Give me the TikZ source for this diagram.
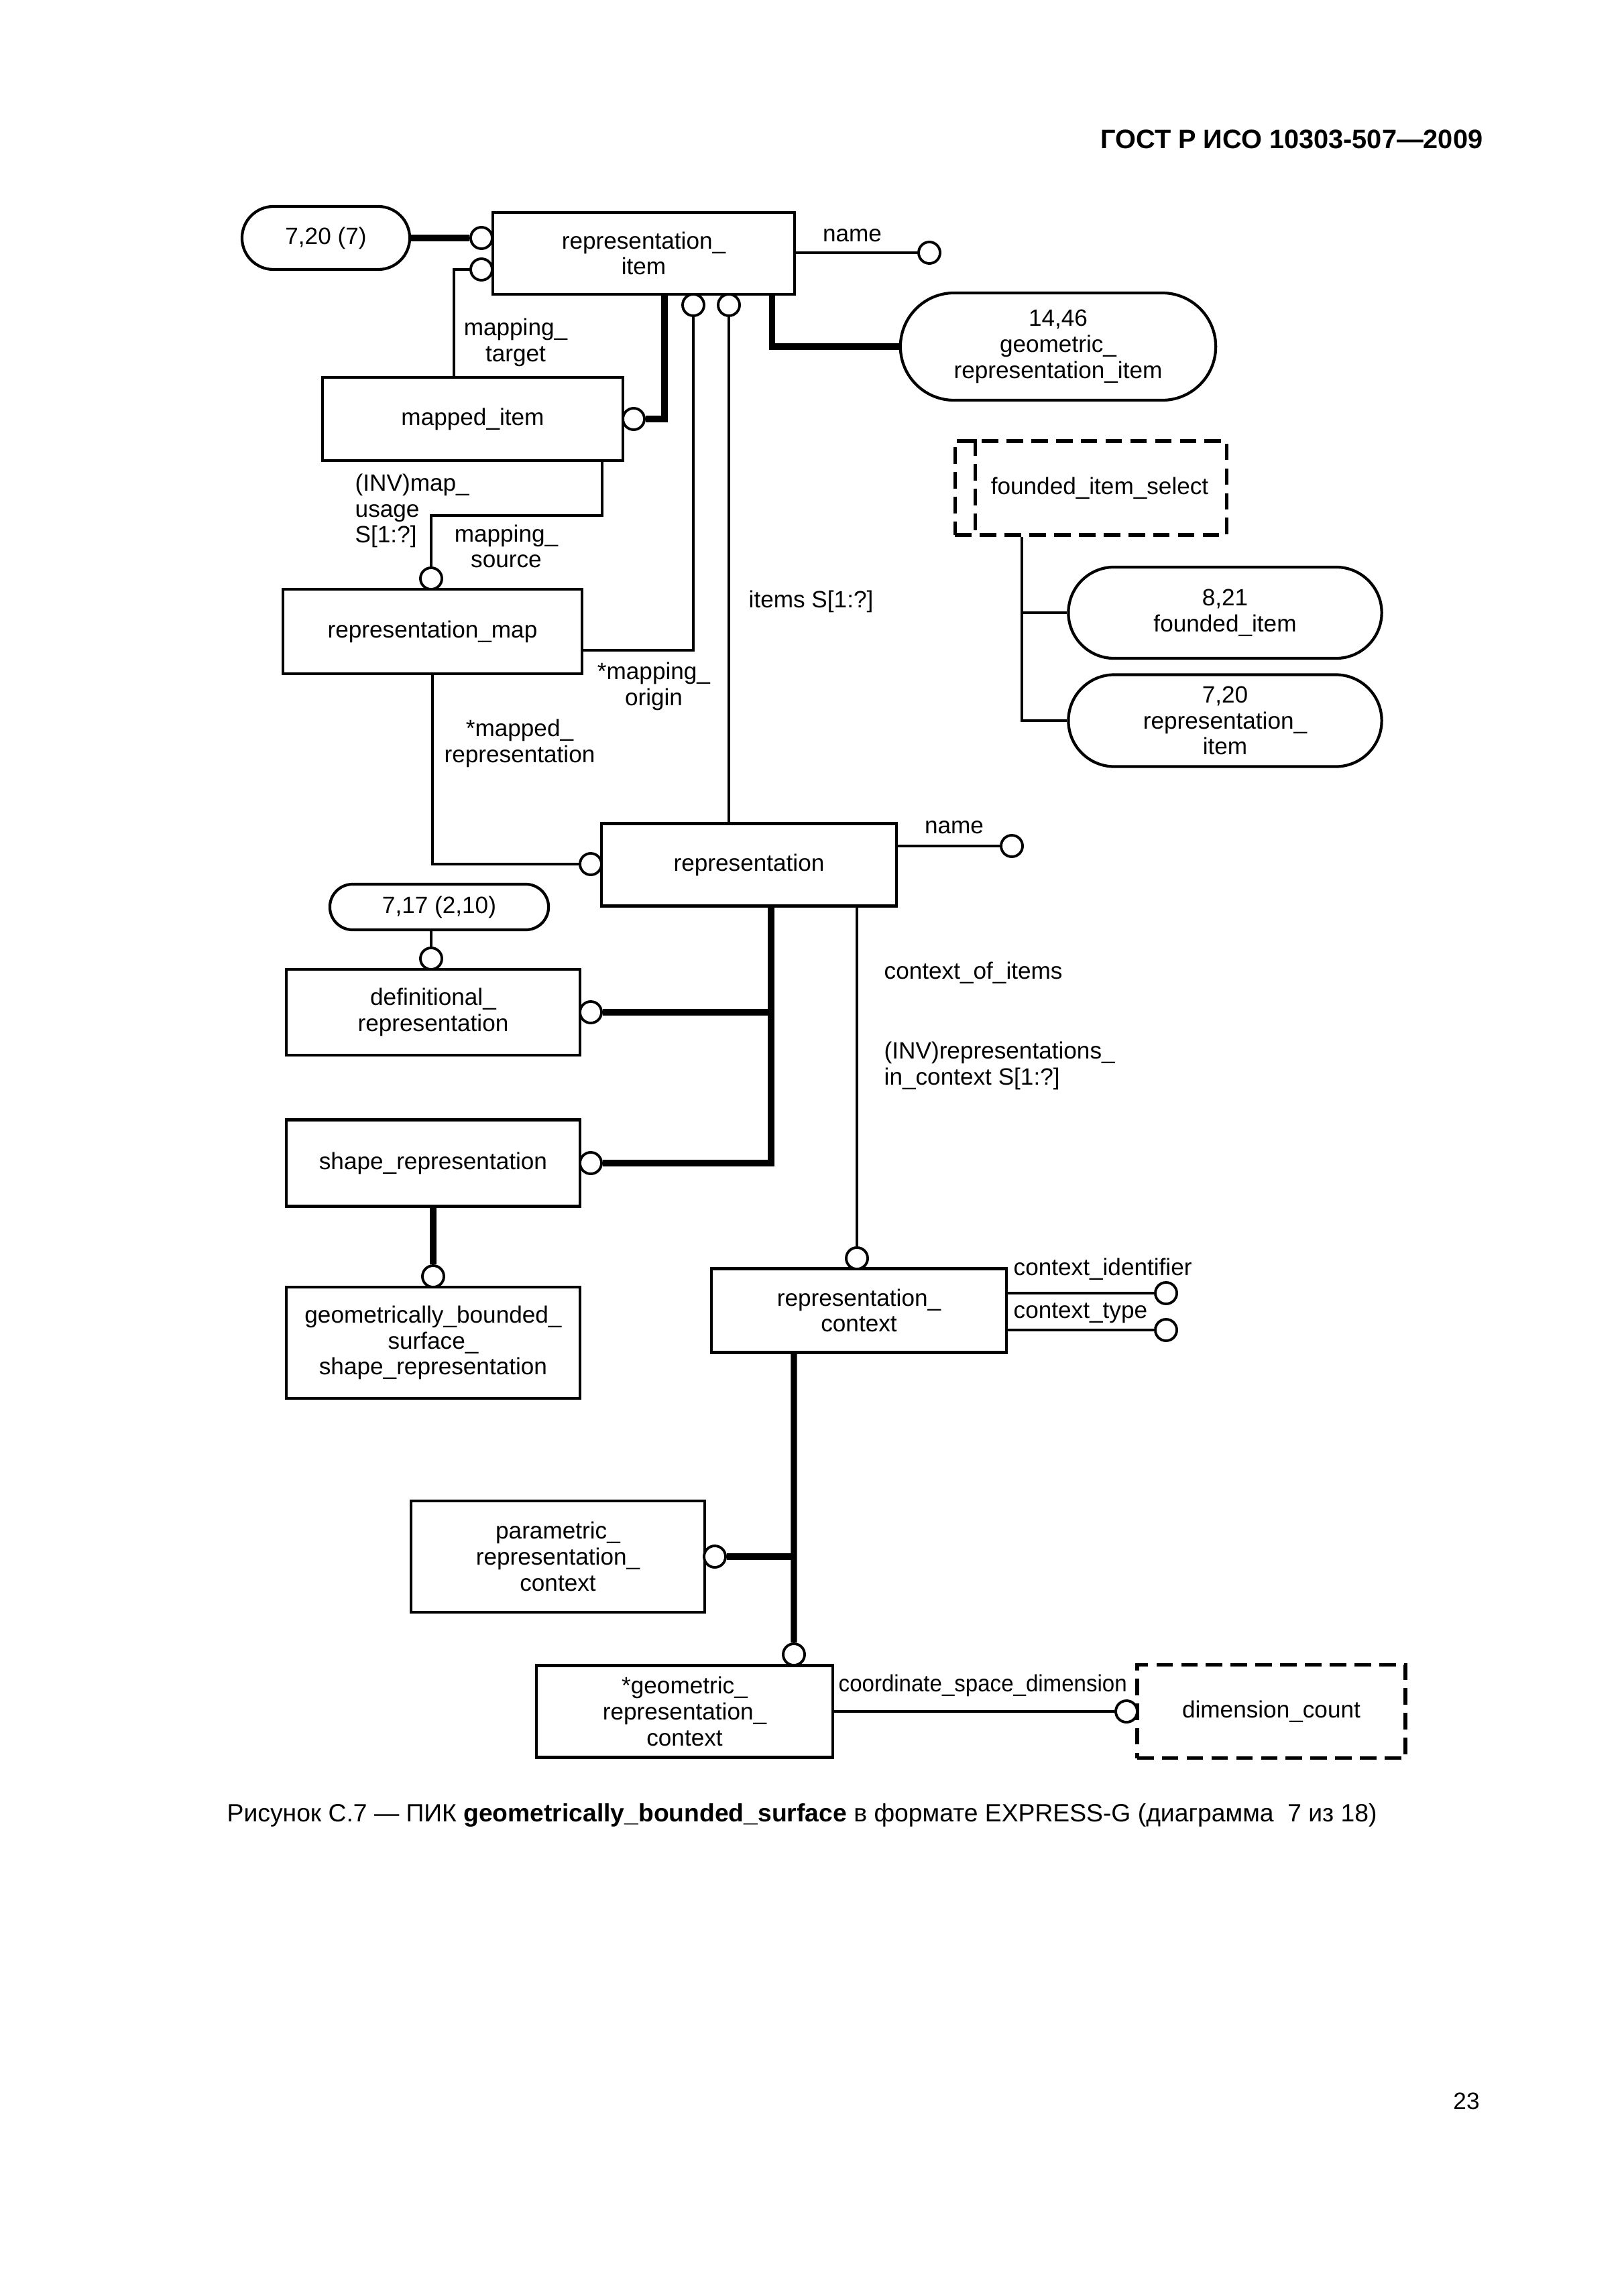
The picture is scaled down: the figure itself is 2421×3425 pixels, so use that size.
\documentclass[tikz,border=0pt]{standalone}
\usepackage{fontspec}
\setmainfont{Liberation Sans}
\usetikzlibrary{shapes.misc}

\begin{document}
\begin{tikzpicture}[x=0.01cm,y=-0.01cm,
  every node/.style={font=\fontsize{10}{11}\selectfont},
  entity/.style={draw,line width=1.2pt,align=center,inner sep=0pt},
  oval/.style={draw,rounded rectangle,line width=1.2pt,align=center,inner sep=0pt},
  selbox/.style={draw,line width=1.6pt,dash pattern=on 7pt off 3.5pt,align=center,inner sep=0pt},
  selline/.style={line width=1.6pt,dash pattern=on 7pt off 3.5pt},
  ring/.style={circle,draw,fill=white,line width=1.1pt,minimum size=0.32cm,inner sep=0pt},
  rel/.style={line width=1pt},
  sub/.style={line width=2.6pt},
  lbl/.style={inner sep=0pt,align=center}]
\fill[white] (0,0) rectangle (2421,3425);
\useasboundingbox (0,0) rectangle (2421,3425);

\node[anchor=east,inner sep=0pt,font=\bfseries\fontsize{11.3}{13}\selectfont] (hd) at (2212,208) {ГОСТ Р ИСО 10303-507—2009};

% entities and references
\node[oval,minimum width=2.5cm,minimum height=0.94cm] (o1) at (486,355) {7,20 (7)};
\node[entity,minimum width=4.5cm,minimum height=1.22cm] (ri) at (960,378) {representation\_\\item};
\node[oval,minimum width=4.7cm,minimum height=1.6cm] (o2) at (1578,517) {14,46\\geometric\_\\representation\_item};
\node[entity,minimum width=4.48cm,minimum height=1.24cm] (mi) at (705,625) {mapped\_item};
\node[entity,minimum width=4.46cm,minimum height=1.26cm] (rm) at (645,942) {representation\_map};
\node[selbox,minimum width=4.05cm,minimum height=1.4cm] (fis) at (1627,728) {\hspace*{0.26cm}founded\_item\_select};
\node[oval,minimum width=4.67cm,minimum height=1.36cm] (o3) at (1827,914) {8,21\\founded\_item};
\node[oval,minimum width=4.67cm,minimum height=1.37cm] (o4) at (1827,1075) {7,20\\representation\_\\item};
\node[entity,minimum width=4.4cm,minimum height=1.23cm] (rp) at (1117,1290) {representation};
\node[oval,minimum width=3.26cm,minimum height=0.68cm] (o5) at (655,1353) {7,17 (2,10)};
\node[entity,minimum width=4.37cm,minimum height=1.28cm] (dr) at (646,1510) {definitional\_\\representation};
\node[entity,minimum width=4.37cm,minimum height=1.29cm] (sr) at (646,1735) {shape\_representation};
\node[entity,minimum width=4.37cm,minimum height=1.66cm] (gbs) at (646,2003) {geometrically\_bounded\_\\surface\_\\shape\_representation};
\node[entity,minimum width=4.4cm,minimum height=1.25cm] (rc) at (1281,1955) {representation\_\\context};
\node[entity,minimum width=4.37cm,minimum height=1.66cm] (pc) at (832,2322) {parametric\_\\representation\_\\context};
\node[entity,minimum width=4.42cm,minimum height=1.37cm] (grc) at (1021,2553) {*geometric\_\\representation\_\\context};
\node[selbox,minimum width=4.0cm,minimum height=1.39cm] (dc) at (1896,2553) {dimension\_count};

% relation ends
\node[ring] (a1) at (718,355) {};
\node[ring] (a2) at (718,402) {};
\node[ring] (a3) at (1386,377) {};
\node[ring] (a4) at (945,625) {};
\node[ring] (a5) at (1034,455) {};
\node[ring] (a6) at (1087,455) {};
\node[ring] (a7) at (643,863) {};
\node[ring] (a8) at (881,1289) {};
\node[ring] (a9) at (1509,1262) {};
\node[ring] (a10) at (643,1430) {};
\node[ring] (a11) at (881,1510) {};
\node[ring] (a12) at (881,1735) {};
\node[ring] (a13) at (646,1904) {};
\node[ring] (a14) at (1278,1877) {};
\node[ring] (a15) at (1739,1929) {};
\node[ring] (a16) at (1739,1984) {};
\node[ring] (a17) at (1066,2322) {};
\node[ring] (a18) at (1184,2468) {};
\node[ring] (a19) at (1680,2553) {};

\coordinate (k1) at (643,769);

% connectors
\draw[sub] (o1.east) -- (a1.west);
\draw[rel] (a2.west) -| ([xshift=-0.28cm]mi.north);
\draw[rel] (ri.east |- a3) -- (a3.west);
\draw[sub] ([xshift=0.31cm]ri.south) |- (a4.east);
\draw[sub] ([xshift=1.91cm]ri.south) |- (o2.west);
\draw[rel] (a5.south) |- ([yshift=-0.28cm]rm.east);
\draw[rel] (a6.south) -- (a6.south |- rp.north);
\draw[rel] ([xshift=1.93cm]mi.south) |- (k1) -- (a7.north);
\draw[rel] (rm.south) |- (a8.west);
\draw[selline] ([xshift=0.33cm]fis.north west) -- ([xshift=0.33cm]fis.south west);
\draw[rel] ([xshift=-1.03cm]fis.south) |- (o3.west);
\draw[rel] ([xshift=-1.03cm]fis.south) |- (o4.west);
\draw[rel] (rp.east |- a9) -- (a9.west);
\draw[rel] (a10.north |- o5.south) -- (a10.north);
\draw[sub] ([xshift=0.33cm]rp.south) |- (a12.east);
\draw[sub] (a11.east) -| ([xshift=0.33cm]rp.south);
\draw[sub] (sr.south) -- (a13.north);
\draw[rel] (a14.north |- rp.south) -- (a14.north);
\draw[rel] (rc.east |- a15) -- (a15.west);
\draw[rel] (rc.east |- a16) -- (a16.west);
\draw[sub] ([xshift=-0.97cm]rc.south) -- (a18.north);
\draw[sub] (a17.east) -- (a17.east -| a18);
\draw[rel] (grc.east) -- (a19.west);

% attribute labels
\node[lbl] (t1) at (1271,351) {name};
\node[lbl] (t2) at (769,511) {mapping\_\\target};
\node[lbl,anchor=west,align=left] (t3) at (529,762) {(INV)map\_\\usage\\S[1:?]};
\node[lbl] (t4) at (755,815) {mapping\_\\source};
\node[lbl,anchor=west] (t5) at (1116,897) {items S[1:?]};
\node[lbl] (t6) at (975,1024) {*mapping\_\\origin};
\node[lbl] (t7) at (775,1109) {*mapped\_\\representation};
\node[lbl] (t8) at (1423,1234) {name};
\node[lbl,anchor=west] (t9) at (1318,1451) {context\_of\_items};
\node[lbl,anchor=west,align=left] (t10) at (1318,1590) {(INV)representations\_\\in\_context S[1:?]};
\node[lbl,anchor=west] (t11) at (1511,1893) {context\_identifier};
\node[lbl,anchor=west] (t12) at (1511,1959) {context\_type};
\node[lbl,anchor=west] (t13) at (1250,2514) {\scalebox{0.94}[1]{coordinate\_space\_dimension}};

\node[anchor=west,inner sep=0pt,font=\fontsize{10.6}{12}\selectfont] (cap) at (338,2708) {Рисунок С.7 — ПИК \textbf{geometrically\_bounded\_surface} в формате EXPRESS-G (диаграмма\ \ 7 из 18)};
\node[inner sep=0pt] (pg) at (2187,3134) {23};
\end{tikzpicture}
\end{document}
